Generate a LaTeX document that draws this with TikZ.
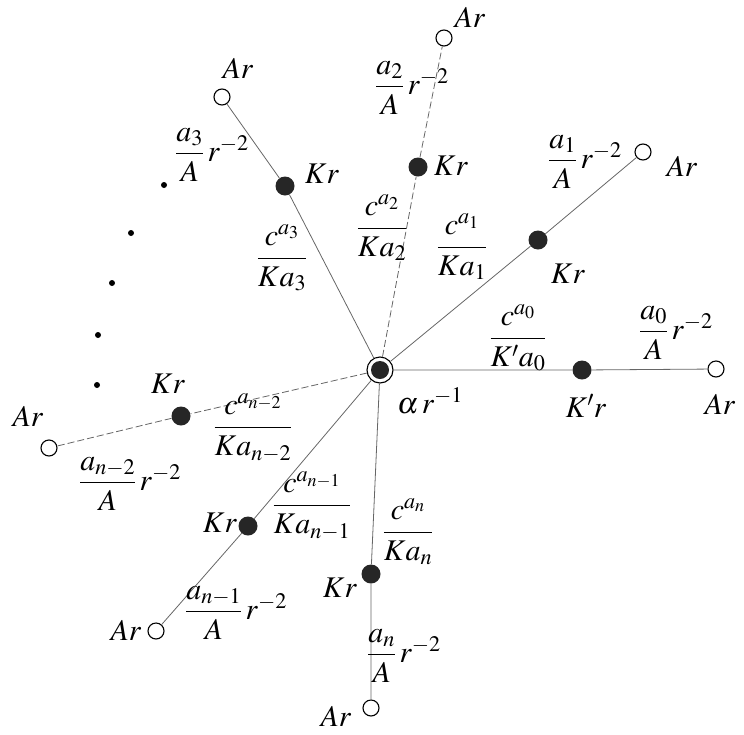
\documentclass[tikz,border=0pt]{standalone}
\usepackage{amsmath}
\usepackage{mathptmx}
\usetikzlibrary{positioning}

\tikzset{
  spoke/.style={black!60, line width=0.8pt},
  broken/.style={dash pattern=on 7pt off 3pt},
  arnode/.style={circle, draw, fill=white, line width=1.1pt, inner sep=0pt, minimum size=16pt},
  krnode/.style={circle, fill=black!85, inner sep=0pt, minimum size=19pt},
  hub/.style={circle, draw, fill=white, line width=1.1pt, inner sep=0pt, minimum size=26pt,
    path picture={\fill[black!85] (path picture bounding box.center) circle (9pt);}},
  lbl/.style={inner sep=1pt}
}

\begin{document}
\begin{tikzpicture}[x=1pt, y=-1pt, font=\fontsize{30}{34}\selectfont]

\useasboundingbox (0,0) rectangle (744,734);

% Centre
\node[hub] (o) at (380,370) {};

% Inner (Kr) and outer (Ar) atoms on each spoke
\node[krnode] (k0) at (582,370) {};
\node[arnode] (t0) at (716,369) {};
\node[krnode] (k1) at (538,240) {};
\node[arnode] (t1) at (643,152) {};
\node[krnode] (k2) at (418,167) {};
\node[arnode] (t2) at (444,38) {};
\node[krnode] (k3) at (285,186) {};
\node[arnode] (t3) at (222,97) {};
\node[krnode] (km2) at (181,416) {};
\node[arnode] (tm2) at (49,448) {};
\node[krnode] (km1) at (248,526) {};
\node[arnode] (tm1) at (156,631) {};
\node[krnode] (kn) at (371,574) {};
\node[arnode] (tn) at (371,708) {};

% Spokes
\draw[spoke] (o) -- (k0) -- (t0);
\draw[spoke] (o) -- (k1) -- (t1);
\draw[spoke, broken] (o) -- (k2) -- (t2);
\draw[spoke] (o) -- (k3) -- (t3);
\draw[spoke, broken] (o) -- (km2) -- (tm2);
\draw[spoke] (o) -- (km1) -- (tm1);
\draw[spoke] (o) -- (kn) -- (tn);

% Omitted spokes
\foreach \x/\y in {164/185, 131/233, 112/283, 98/335, 97/385}
  \fill (\x,\y) circle (3pt);

% Atom labels
\node[lbl] (lt0) at (720,404) {$Ar$};
\node[lbl] (lt1) at (682,166) {$Ar$};
\node[lbl] (lt2) at (470,17) {$Ar$};
\node[lbl] (lt3) at (238,68) {$Ar$};
\node[lbl] (ltm2) at (28,416) {$Ar$};
\node[lbl] (ltm1) at (126,630) {$Ar$};
\node[lbl] (ltn) at (336,716) {$Ar$};
\node[lbl] (lk0) at (586,406) {$K'r$};
\node[lbl] (lk1) at (568,274) {$Kr$};
\node[lbl] (lk2) at (451,166) {$Kr$};
\node[lbl] (lk3) at (322,174) {$Kr$};
\node[lbl] (lkm2) at (168,384) {$Kr$};
\node[lbl] (lkm1) at (220,523) {$Kr$};
\node[lbl] (lkn) at (340,588) {$Kr$};
\node[lbl] (lo) at (430,401) {$\alpha\,r^{-1}$};

% Outer bond weights
\node[lbl] (w0) at (676,333) {$\dfrac{a_0}{A}\,r^{-2}$};
\node[lbl] (w1) at (585,162) {$\dfrac{a_1}{A}\,r^{-2}$};
\node[lbl] (w2) at (412,88) {$\dfrac{a_2}{A}\,r^{-2}$};
\node[lbl] (w3) at (212,155) {$\dfrac{a_3}{A}\,r^{-2}$};
\node[lbl] (wm2) at (130,484) {$\dfrac{a_{n-2}}{A}\,r^{-2}$};
\node[lbl] (wm1) at (236,613) {$\dfrac{a_{n-1}}{A}\,r^{-2}$};
\node[lbl] (wn) at (404,656) {$\dfrac{a_n}{A}\,r^{-2}$};

% Inner bond weights
\node[lbl] (c0) at (518,338) {$\dfrac{c^{a_0}}{K'a_0}$};
\node[lbl] (c1) at (462,247) {$\dfrac{c^{a_1}}{Ka_1}$};
\node[lbl] (c2) at (382,228) {$\dfrac{c^{a_2}}{Ka_2}$};
\node[lbl] (c3) at (282,258) {$\dfrac{c^{a_3}}{Ka_3}$};
\node[lbl] (cm2) at (253,428) {$\dfrac{c^{a_{n-2}}}{Ka_{n-2}}$};
\node[lbl] (cm1) at (312,506) {$\dfrac{c^{a_{n-1}}}{Ka_{n-1}}$};
\node[lbl] (cn) at (408,532) {$\dfrac{c^{a_n}}{Ka_n}$};

\end{tikzpicture}
\end{document}
